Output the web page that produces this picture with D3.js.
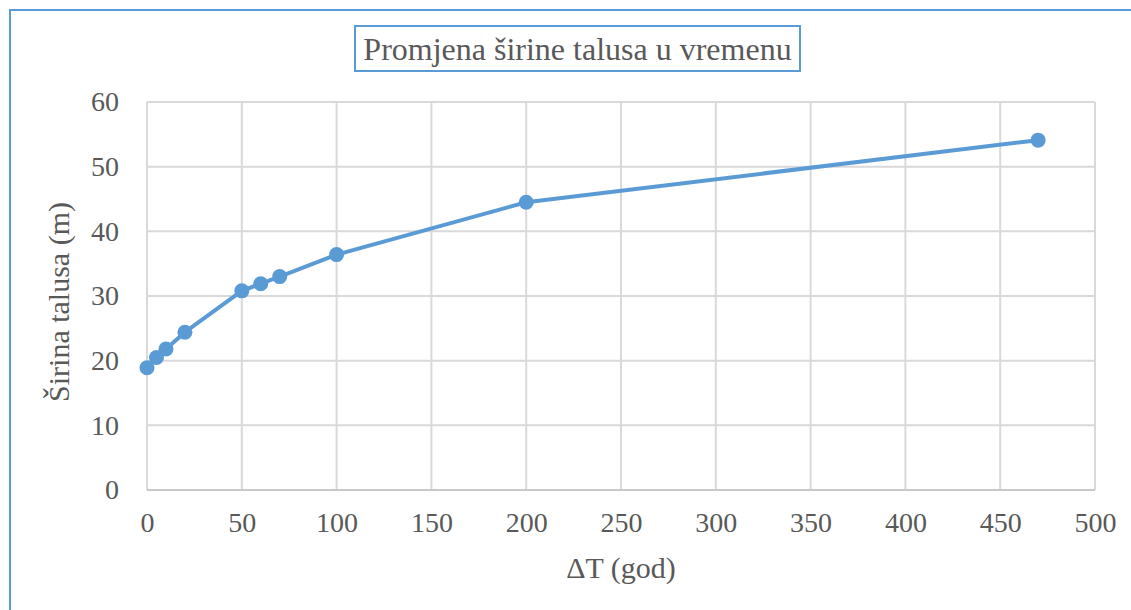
<!DOCTYPE html>
<html>
<head>
<meta charset="utf-8">
<script src="https://cdn.jsdelivr.net/npm/d3@7"></script>
<style>
  html, body { margin: 0; padding: 0; background: #fff; overflow: hidden; }
  svg { display: block; }
  text { font-family: "Liberation Serif", "Times New Roman", serif; fill: #595959; }
</style>
</head>
<body>
<svg id="chart" width="1131" height="610"></svg>
<script>
// Talus width over time
const years = [0, 5, 10, 20, 50, 60, 70, 100, 200, 470];
const widths = [18.9, 20.5, 21.8, 24.4, 30.8, 31.9, 33.0, 36.4, 44.5, 54.1];
const xTicks = [0, 50, 100, 150, 200, 250, 300, 350, 400, 450, 500];
const yTicks = [0, 10, 20, 30, 40, 50, 60];
const titleText = "Promjena širine talusa u vremenu";
const xTitle = "ΔT (god)";
const yTitle = "Širina talusa (m)";

const W = 1131, H = 610;
const m = { left: 147, right: 1095, top: 102, bottom: 490 };
const blue = "#5b9bd5";

const svg = d3.select("#chart");

// chart frame
svg.append("rect")
  .attr("x", 10).attr("y", 10)
  .attr("width", W + 20).attr("height", H + 20)
  .attr("fill", "none").attr("stroke", blue).attr("stroke-width", 2);

const x = d3.scaleLinear().domain([0, 500]).range([m.left, m.right]);
const y = d3.scaleLinear().domain([0, 60]).range([m.bottom, m.top]);

// gridlines
const grid = svg.append("g");
grid.selectAll("line.v").data(xTicks).join("line")
  .attr("x1", d => x(d)).attr("x2", d => x(d))
  .attr("y1", m.top).attr("y2", m.bottom)
  .attr("stroke", "#d9d9d9").attr("stroke-width", 2);
grid.selectAll("line.h").data(yTicks).join("line")
  .attr("x1", m.left).attr("x2", m.right)
  .attr("y1", d => y(d)).attr("y2", d => y(d))
  .attr("stroke", d => d === 0 ? "#c8c8c8" : "#d9d9d9").attr("stroke-width", 2);

// axes (labels only)
const xAxis = svg.append("g")
  .attr("transform", `translate(0,${m.bottom})`)
  .call(d3.axisBottom(x).tickValues(xTicks).tickSize(0).tickPadding(22));
const yAxis = svg.append("g")
  .attr("transform", `translate(${m.left},0)`)
  .call(d3.axisLeft(y).tickValues(yTicks).tickSize(0).tickPadding(28));
[xAxis, yAxis].forEach(a => {
  a.select(".domain").remove();
  a.selectAll("text")
    .style("font-family", "'Liberation Serif', 'Times New Roman', serif")
    .style("font-size", "28px").attr("fill", "#595959");
});

// series line and markers
const pts = years.map((v, i) => [v, widths[i]]);
svg.append("path")
  .datum(pts)
  .attr("d", d3.line().x(d => x(d[0])).y(d => y(d[1])))
  .attr("fill", "none").attr("stroke", blue)
  .attr("stroke-width", 4).attr("stroke-linejoin", "round").attr("stroke-linecap", "round");
svg.append("g").selectAll("circle").data(pts).join("circle")
  .attr("cx", d => x(d[0])).attr("cy", d => y(d[1]))
  .attr("r", 7.5).attr("fill", blue);

// title box
const titleG = svg.append("g");
titleG.append("rect")
  .attr("x", 355).attr("y", 26).attr("width", 445).attr("height", 45)
  .attr("fill", "#fff").attr("stroke", blue).attr("stroke-width", 2);
titleG.append("text")
  .attr("x", 577.5).attr("y", 60)
  .attr("text-anchor", "middle")
  .style("font-size", "32px")
  .text(titleText);

// axis titles
svg.append("text")
  .attr("x", (m.left + m.right) / 2).attr("y", 578)
  .attr("text-anchor", "middle").style("font-size", "30px")
  .text(xTitle);
svg.append("text")
  .attr("transform", `translate(69,302) rotate(-90)`)
  .attr("text-anchor", "middle").style("font-size", "30px")
  .text(yTitle);
</script>
</body>
</html>
